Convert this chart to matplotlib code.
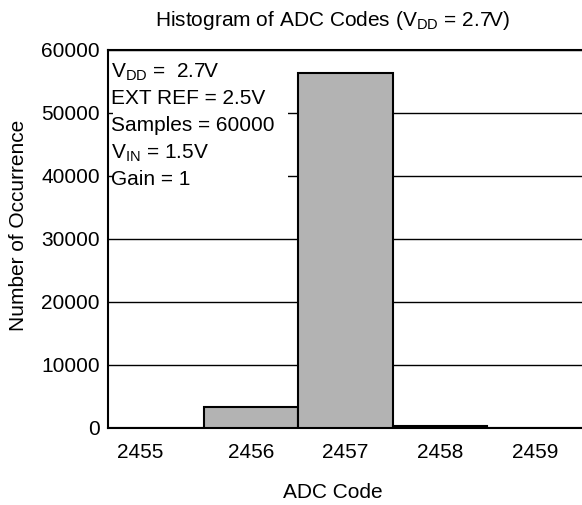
import matplotlib
matplotlib.use('Agg')
import matplotlib.pyplot as plt
import matplotlib.transforms as mtransforms

plt.rcParams['font.family'] = ['Liberation Sans', 'DejaVu Sans']
plt.rcParams['mathtext.fontset'] = 'custom'
plt.rcParams['mathtext.rm'] = 'Liberation Sans'
plt.rcParams['mathtext.it'] = 'Liberation Sans'

ADC_CODES = [2455, 2456, 2457, 2458, 2459]
OCCURRENCES = [0, 3300, 56400, 300, 0]
Y_TICKS = [0, 10000, 20000, 30000, 40000, 50000, 60000]
INFO_LINES = [
    r'V$_{\mathregular{DD}}$ =  2.7V',
    'EXT REF = 2.5V',
    'Samples = 60000',
    r'V$_{\mathregular{IN}}$ = 1.5V',
    'Gain = 1',
]

BAR_COLOR = '#b3b3b3'
FS = 15

fig = plt.figure(figsize=(5.82, 5.05), dpi=100)
ax = fig.add_axes([0.1856, 0.1525, 1.0 - 0.1856, 0.901 - 0.1525])

ax.bar(ADC_CODES, OCCURRENCES, width=1.0, color=BAR_COLOR,
       edgecolor='black', linewidth=1.5, zorder=3)

ax.set_xlim(2454.49, 2459.5)
ax.set_ylim(0, 60000)
ax.set_xticks(ADC_CODES)
ax.set_xticklabels([str(c) for c in ADC_CODES])
ax.set_yticks(Y_TICKS)
ax.tick_params(axis='both', length=0, labelsize=FS)
ax.tick_params(axis='x', pad=11)
ax.tick_params(axis='y', pad=6)

# first label sits a little to the left in the original
offset = mtransforms.ScaledTranslation(-16 / 100, 0, fig.dpi_scale_trans)
lbl = ax.get_xticklabels()[0]
lbl.set_transform(lbl.get_transform() + offset)

ax.yaxis.grid(True, color='black', linewidth=1.0, zorder=0)
ax.set_axisbelow(True)
for side in ['left', 'bottom', 'top']:
    ax.spines[side].set_linewidth(1.5)
ax.spines['right'].set_visible(False)

# white box behind the settings text
box = plt.Rectangle((0.0105, 0.61), 0.37, 0.385, transform=ax.transAxes,
                    facecolor='white', edgecolor='none', zorder=2)
ax.add_patch(box)
for i, line in enumerate(INFO_LINES):
    ax.text(0.006, 0.928 - i * 0.0715, line, transform=ax.transAxes,
            fontsize=FS, va='baseline', ha='left', zorder=4)

fig.text(0.572, 0.96, r'Histogram of ADC Codes (V$_{\mathregular{DD}}$ = 2.7V)',
         ha='center', va='center', fontsize=FS)
fig.text(0.572, 0.024, 'ADC Code', ha='center', va='center', fontsize=FS)
fig.text(0.031, 0.554, 'Number of Occurrence', ha='center', va='center',
         rotation=90, fontsize=FS)

fig.savefig('out.png', dpi=100)
